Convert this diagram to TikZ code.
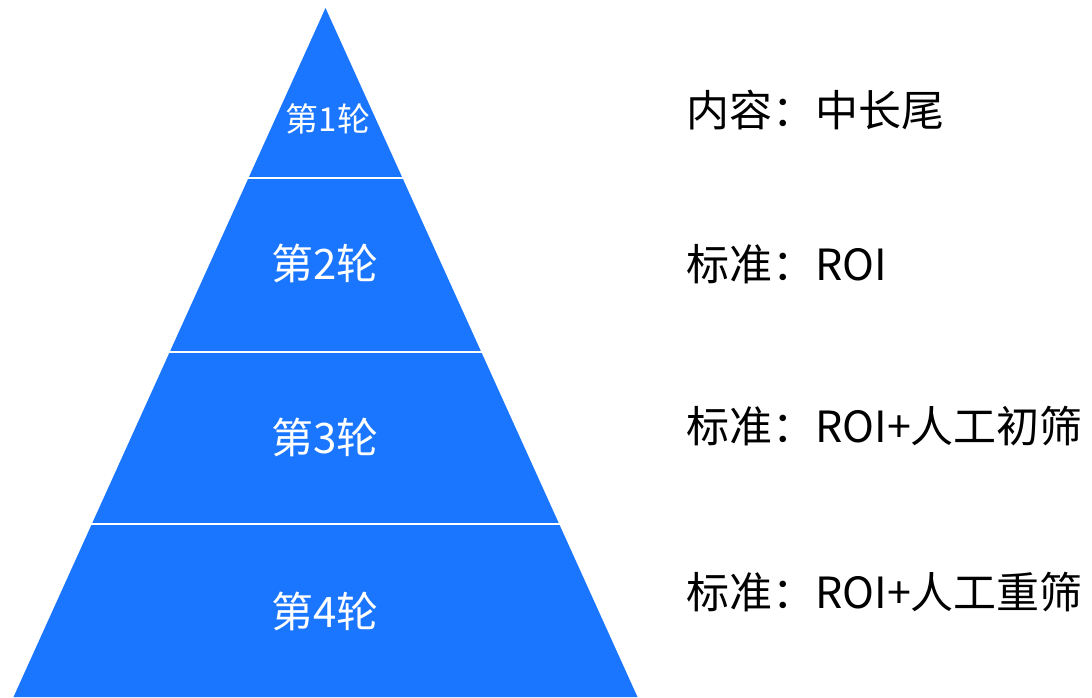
\documentclass[tikz,border=0pt]{standalone}
\usepackage{fontspec}
\setmainfont{Noto Sans CJK SC}
\usetikzlibrary{calc}
\definecolor{pyrblue}{HTML}{1A75FF}
\begin{document}
\begin{tikzpicture}[x=1pt,y=-1pt,
  layerlabel/.style={text=white,font=\fontsize{42}{42}\selectfont,inner sep=0pt,anchor=center},
  sidelabel/.style={text=black,font=\fontsize{43}{43}\selectfont,inner sep=0pt,anchor=west},
  sepline/.style={draw=white,line width=2.5pt}]
\useasboundingbox (0,0) rectangle (1092,697);
\coordinate (apex) at (325.5,8);
\coordinate (bl) at (13.5,697);
\coordinate (br) at (637.5,697);
\fill[pyrblue] (apex) -- (br) -- (bl) -- cycle;
\foreach \t/\n in {0.2467/a,0.4993/b,0.7489/c}{
  \coordinate (l\n) at ($(apex)!\t!(bl)$);
  \coordinate (r\n) at ($(apex)!\t!(br)$);
  \draw[sepline] ($(l\n)+(-2,0)$) -- ($(r\n)+(2,0)$);
}
\node[layerlabel,font=\fontsize{33}{33}\selectfont] (L1) at (328,119) {第1轮};
\node[layerlabel] (L2) at (325,263) {第2轮};
\node[layerlabel] (L3) at (325,437) {第3轮};
\node[layerlabel] (L4) at (325,611) {第4轮};
\node[sidelabel] (R1) at (686,110) {内容：中长尾};
\node[sidelabel] (R2) at (686,264) {标准：ROI};
\node[sidelabel] (R3) at (686,426) {标准：ROI+人工初筛};
\node[sidelabel] (R4) at (686,592) {标准：ROI+人工重筛};
\end{tikzpicture}
\end{document}
